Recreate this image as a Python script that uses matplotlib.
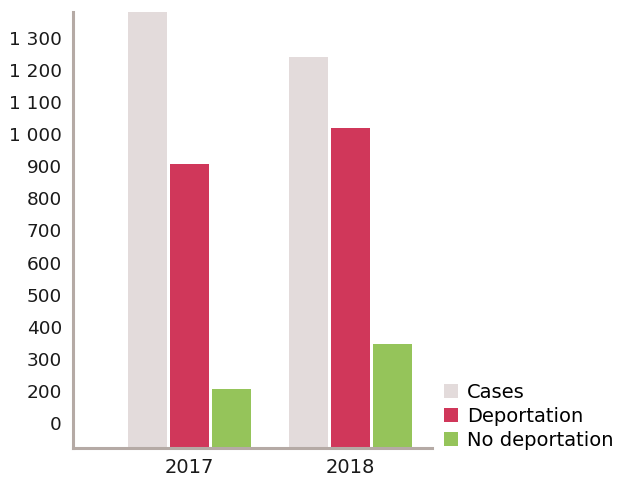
import numpy as np
import matplotlib.pyplot as plt

years = ["2017", "2018"]
cases = [1400, 1241]
deportation = [908, 1021]
no_deportation = [204, 347]

# y labels as printed on the original (no "100")
ytick_vals = [100, 200, 300, 400, 500, 600, 700, 800, 900, 1000, 1100, 1200, 1300]
ytick_labels = ["0", "200", "300", "400", "500", "600", "700", "800", "900",
                "1 000", "1 100", "1 200", "1 300"]

colors = ["#e3dbdb", "#d0375a", "#95c45a"]

fig = plt.figure(figsize=(6.17, 4.82), dpi=100)
ax = fig.add_axes([73/617, 1-448/482, (432-73)/617, (448-12)/482])

x = np.arange(len(years))
w = 39/161
step = 42/161
ax.bar(x - step, cases, w, color=colors[0], label="Cases")
ax.bar(x, deportation, w, color=colors[1], label="Deportation")
ax.bar(x + step, no_deportation, w, color=colors[2], label="No deportation")

ax.set_xlim(-0.724, 1.506)
ax.set_ylim(21, 1382)
ax.set_xticks(x)
ax.set_xticklabels(years)
ax.set_yticks(ytick_vals)
ax.set_yticklabels(ytick_labels)
ax.tick_params(axis="both", length=0, colors="#1a1a1a")
ax.tick_params(axis="y", pad=8, labelsize=13.3)
ax.tick_params(axis="x", pad=7, labelsize=14)

for s in ["top", "right"]:
    ax.spines[s].set_visible(False)
for s in ["left", "bottom"]:
    ax.spines[s].set_color("#b5aaa5")
    ax.spines[s].set_linewidth(2.2)

fig.legend(loc="lower left", bbox_to_anchor=(440/617, 1-454/482), frameon=False,
           fontsize=14, handlelength=0.72, handleheight=0.72, handletextpad=0.46,
           labelspacing=0.27, borderpad=0.2, borderaxespad=0)

plt.savefig("out.png", dpi=100)
